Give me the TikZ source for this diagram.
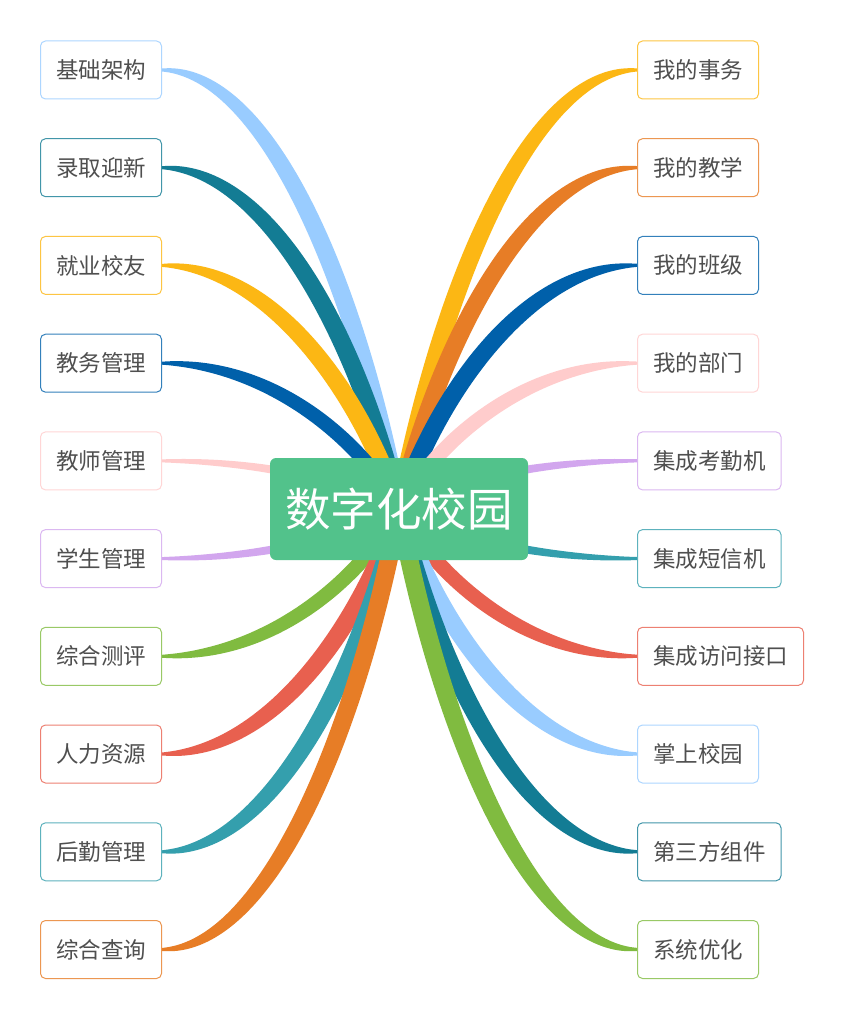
\documentclass[tikz,border=0pt]{standalone}
\usepackage{fontspec}
\setmainfont{Noto Sans CJK SC}
\usetikzlibrary{calc}
\pgfdeclarelayer{bg}
\pgfsetlayers{bg,main}
\definecolor{cLB}{HTML}{99CCFF}
\definecolor{cTL}{HTML}{137C94}
\definecolor{cYL}{HTML}{FCB714}
\definecolor{cBL}{HTML}{0060AA}
\definecolor{cPK}{HTML}{FFCCCC}
\definecolor{cLV}{HTML}{D2A6EE}
\definecolor{cGR}{HTML}{80BB40}
\definecolor{cRD}{HTML}{E8604F}
\definecolor{cCY}{HTML}{349FAD}
\definecolor{cOR}{HTML}{E77D26}
\definecolor{rootgreen}{HTML}{52C28B}
\definecolor{txt}{HTML}{4F4F4F}
% tapered ribbon from root node centre to a leaf anchor
\newcommand{\ribbon}[4]{%
  \pgfpointanchor{#2}{center}\pgfgetlastxy{\rxa}{\rya}%
  \pgfpointanchor{#3}{#4}\pgfgetlastxy{\rxb}{\ryb}%
  \pgfmathsetmacro\Ax{\rxa}\pgfmathsetmacro\Ay{\rya}%
  \pgfmathsetmacro\Dx{\rxb}\pgfmathsetmacro\Dy{\ryb}%
  \pgfmathsetmacro\Bx{\Ax+0.165*(\Dx-\Ax)}\pgfmathsetmacro\By{\Ay+0.48*(\Dy-\Ay)}%
  \pgfmathsetmacro\Cx{\Dx+0.46*(\Ax-\Dx)}\pgfmathsetmacro\Cy{\Dy}%
  \pgfmathsetmacro\Hm{3+6*min(1,abs(\Dy-\Ay)/200)}%
  \begin{scope}[x=1pt,y=1pt]
  \fill[#1] plot[variable=\t,domain=0:1,samples=45,smooth]
      ({bx(\t)+hw(\t)*nx(\t)},{by(\t)+hw(\t)*ny(\t)})
    -- plot[variable=\t,domain=1:0,samples=45,smooth]
      ({bx(\t)-hw(\t)*nx(\t)},{by(\t)-hw(\t)*ny(\t)}) -- cycle;
  \end{scope}
}
\begin{document}
\begin{tikzpicture}[x=1pt,y=-1pt,
  declare function={
    bx(\t)=(1-\t)^3*\Ax+3*(1-\t)^2*\t*\Bx+3*(1-\t)*\t^2*\Cx+\t^3*\Dx;
    by(\t)=(1-\t)^3*\Ay+3*(1-\t)^2*\t*\By+3*(1-\t)*\t^2*\Cy+\t^3*\Dy;
    ddx(\t)=0.03*((1-\t)^2*(\Bx-\Ax)+2*(1-\t)*\t*(\Cx-\Bx)+\t^2*(\Dx-\Cx));
    ddy(\t)=0.03*((1-\t)^2*(\By-\Ay)+2*(1-\t)*\t*(\Cy-\By)+\t^2*(\Dy-\Cy));
    nx(\t)=-ddy(\t)/veclen(ddx(\t),ddy(\t));
    ny(\t)=ddx(\t)/veclen(ddx(\t),ddy(\t));
    hw(\t)=1.5+(\Hm-1.5)*(1-\t^4);
  },
  leaf/.style={draw=#1!80!white, fill=white, rounded corners=5pt, line width=1pt,
    text=txt, font=\fontsize{22.5}{26}\selectfont, inner xsep=15.5pt, minimum height=58pt},
  root/.style={fill=rootgreen, rounded corners=6pt, text=white,
    font=\fontsize{45.5}{50}\selectfont, minimum width=258pt, minimum height=102pt}]
\useasboundingbox (0,0) rectangle (848,1024);
\node[root] (R) at (399,509) {数字化校园};
\node[leaf=cLB, anchor=east] (L1) at (162,70) {基础架构};
\node[leaf=cTL, anchor=east] (L2) at (162,167.7) {录取迎新};
\node[leaf=cYL, anchor=east] (L3) at (162,265.4) {就业校友};
\node[leaf=cBL, anchor=east] (L4) at (162,363.2) {教务管理};
\node[leaf=cPK, anchor=east] (L5) at (162,460.9) {教师管理};
\node[leaf=cLV, anchor=east] (L6) at (162,558.6) {学生管理};
\node[leaf=cGR, anchor=east] (L7) at (162,656.3) {综合测评};
\node[leaf=cRD, anchor=east] (L8) at (162,754.0) {人力资源};
\node[leaf=cCY, anchor=east] (L9) at (162,851.8) {后勤管理};
\node[leaf=cOR, anchor=east] (L10) at (162,949.5) {综合查询};
\node[leaf=cYL, anchor=west] (R1) at (637,70) {我的事务};
\node[leaf=cOR, anchor=west] (R2) at (637,167.7) {我的教学};
\node[leaf=cBL, anchor=west] (R3) at (637,265.4) {我的班级};
\node[leaf=cPK, anchor=west] (R4) at (637,363.2) {我的部门};
\node[leaf=cLV, anchor=west] (R5) at (637,460.9) {集成考勤机};
\node[leaf=cCY, anchor=west] (R6) at (637,558.6) {集成短信机};
\node[leaf=cRD, anchor=west] (R7) at (637,656.3) {集成访问接口};
\node[leaf=cLB, anchor=west] (R8) at (637,754.0) {掌上校园};
\node[leaf=cTL, anchor=west] (R9) at (637,851.8) {第三方组件};
\node[leaf=cGR, anchor=west] (R10) at (637,949.5) {系统优化};
\begin{pgfonlayer}{bg}
\fill[white] (0,0) rectangle (848,1024);
\ribbon{cLB}{R}{L1}{east}
\ribbon{cTL}{R}{L2}{east}
\ribbon{cYL}{R}{L3}{east}
\ribbon{cBL}{R}{L4}{east}
\ribbon{cPK}{R}{L5}{east}
\ribbon{cLV}{R}{L6}{east}
\ribbon{cGR}{R}{L7}{east}
\ribbon{cRD}{R}{L8}{east}
\ribbon{cCY}{R}{L9}{east}
\ribbon{cOR}{R}{L10}{east}
\ribbon{cYL}{R}{R1}{west}
\ribbon{cOR}{R}{R2}{west}
\ribbon{cBL}{R}{R3}{west}
\ribbon{cPK}{R}{R4}{west}
\ribbon{cLV}{R}{R5}{west}
\ribbon{cCY}{R}{R6}{west}
\ribbon{cRD}{R}{R7}{west}
\ribbon{cLB}{R}{R8}{west}
\ribbon{cTL}{R}{R9}{west}
\ribbon{cGR}{R}{R10}{west}
\end{pgfonlayer}
\end{tikzpicture}
\end{document}
